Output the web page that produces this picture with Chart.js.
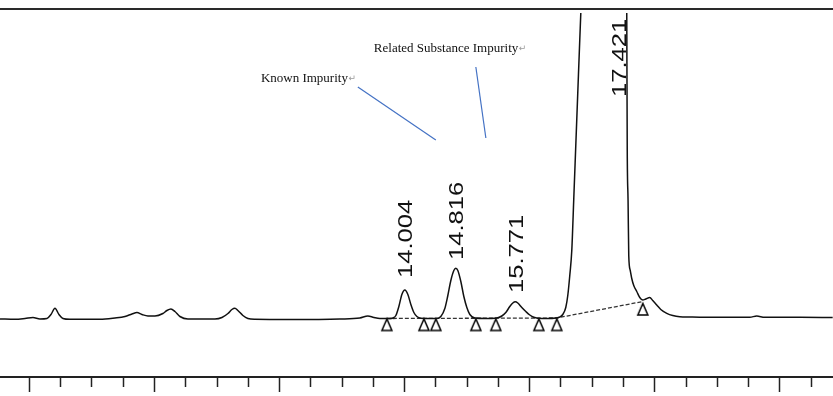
<!DOCTYPE html>
<html>
<head>
<meta charset="utf-8">
<title>Chromatogram</title>
<script src="https://cdn.jsdelivr.net/npm/chart.js@4/dist/chart.umd.min.js"></script>
<style>
  html, body { margin: 0; padding: 0; background: #fff; }
  #wrap { width: 833px; height: 396px; }
</style>
</head>
<body>
<div id="wrap"><canvas id="chrom" width="833" height="396"></canvas></div>
<script>
// retention time (min) and detector signal
const traceTime = [
  7.530, 7.770, 7.930, 8.057, 8.169, 8.281, 8.345, 8.409, 8.473, 8.537, 8.649, 9.128,
  9.368, 9.528, 9.640, 9.720, 9.800, 9.896, 10.008, 10.135, 10.199, 10.263, 10.327, 10.407,
  10.535, 10.967, 11.079, 11.175, 11.238, 11.286, 11.334, 11.414, 11.494, 11.606, 12.166, 12.965,
  13.284, 13.412, 13.508, 13.604, 13.764, 13.812, 13.860, 13.908, 13.956, 14.004, 14.052, 14.100,
  14.148, 14.196, 14.260, 14.403, 14.515, 14.579, 14.643, 14.691, 14.739, 14.787, 14.819, 14.851,
  14.899, 14.947, 14.995, 15.043, 15.123, 15.283, 15.474, 15.554, 15.618, 15.682, 15.730, 15.770,
  15.810, 15.874, 15.938, 16.002, 16.066, 16.130, 16.290, 16.417, 16.481, 16.529, 16.577, 16.609,
  16.641, 16.673, 16.705, 16.737, 16.769, 16.801, 16.817, 16.833, 17.421, 17.552, 17.560, 17.573,
  17.584, 17.608, 17.632, 17.664, 17.712, 17.760, 17.808, 17.856, 17.920, 17.968, 18.032, 18.096,
  18.192, 18.288, 18.400, 18.560, 18.719, 19.039, 19.519, 19.630, 19.758, 20.318, 20.845
];
const traceSignal = [
  -0.5, -0.8, 0, 1, -0.5, 0, 4, 10.2, 4, 0, -0.8, -0.8,
  0.5, 2, 4.5, 6, 4, 2.5, 2.5, 5, 8, 9.5, 7, 2,
  -0.5, -0.5, 1, 5, 9, 10.2, 8, 3, 0, -0.8, -1, -0.5,
  0.5, 2.5, 1, 0, 0, 0.5, 3, 12, 24, 28.5, 24, 14,
  6, 2, 0.3, 0, 0, 2, 10, 23, 38, 48, 50.2, 48,
  37, 22, 11, 4, 0.5, 0, 0.5, 2.5, 6, 12, 15.5, 16.8,
  15.5, 11, 7, 3.5, 1.2, 0.3, 0, 0.5, 1.5, 4, 11, 23,
  43, 68, 120, 173, 226, 279, 305, 332, 2600, 305, 168, 118,
  63, 48, 40, 33, 27, 21, 18.5, 19.5, 21, 18, 13.5, 9,
  5.2, 3, 1.8, 1.5, 1.3, 1.2, 1.2, 2.5, 1.2, 1.2, 1.0
];

// integration start/stop markers
const markerTime  = [13.716, 14.308, 14.499, 15.139, 15.458, 16.146, 16.433, 17.808];
const markerLevel = [0, 0, 0, 0, 0, 0, 0, 15.5];

// drawn integration baseline
const baseTime  = [13.716, 16.433, 17.808];
const baseLevel = [0, 0.5, 17];

// peak retention time labels
const peakNames  = ['14.004', '14.816', '15.771', '17.421'];
const peakTimes  = [14.004, 14.816, 15.771, 17.421];
const labelLevel = [40.5, 58.5, 25.5, 221.5];

// call-out notes
const noteTexts  = ['Known Impurity', 'Related Substance Impurity'];
const noteTime   = [11.702, 13.508];
const noteLevel  = [236.8, 266.8];
const leaderFrom = [[13.252, 231.5], [15.139, 251.5]];
const leaderTo   = [[14.499, 178.5], [15.299, 180.5]];

// axis ticks (min)
const xTickValues = [8, 8.5, 9, 9.5, 10, 10.5, 11, 11.5, 12, 12.5, 13, 13.5, 14, 14.5,
  15, 15.5, 16, 16.5, 17, 17.5, 18, 18.5, 19, 19.5, 20, 20.5];
const majorStep = 2;

function makeTriangle() {
  const c = document.createElement('canvas');
  c.width = 14; c.height = 28;
  const g = c.getContext('2d');
  g.strokeStyle = '#000';
  g.lineWidth = 1.5;
  g.beginPath();
  g.moveTo(7, 14.5);
  g.lineTo(2, 26);
  g.lineTo(12, 26);
  g.closePath();
  g.stroke();
  return c;
}

const notesPlugin = {
  id: 'notes',
  afterDatasetsDraw(chart) {
    const { ctx, scales: { x, y } } = chart;
    ctx.save();

    // rotated retention times
    ctx.fillStyle = '#111';
    ctx.font = '21px "Liberation Sans", Arial, sans-serif';
    ctx.textAlign = 'left';
    ctx.textBaseline = 'alphabetic';
    peakNames.forEach((name, i) => {
      ctx.save();
      ctx.translate(x.getPixelForValue(peakTimes[i]), y.getPixelForValue(labelLevel[i]));
      ctx.rotate(-Math.PI / 2);
      ctx.scale(1.22, 1);
      ctx.fillText(name, 0, 7.5);
      ctx.restore();
    });

    // leader lines
    ctx.strokeStyle = '#4472c4';
    ctx.lineWidth = 1.2;
    leaderFrom.forEach((p, i) => {
      ctx.beginPath();
      ctx.moveTo(x.getPixelForValue(p[0]), y.getPixelForValue(p[1]));
      ctx.lineTo(x.getPixelForValue(leaderTo[i][0]), y.getPixelForValue(leaderTo[i][1]));
      ctx.stroke();
    });

    // note texts with the paragraph mark
    noteTexts.forEach((txt, i) => {
      const px = x.getPixelForValue(noteTime[i]);
      const py = y.getPixelForValue(noteLevel[i]);
      ctx.font = '13px "Liberation Serif", "Times New Roman", serif';
      ctx.fillStyle = '#111';
      ctx.fillText(txt, px, py);
      const w = ctx.measureText(txt).width;
      ctx.font = '9px "DejaVu Sans", sans-serif';
      ctx.fillStyle = '#9a9a9a';
      ctx.fillText('\u21b5', px + w + 0.5, py - 1);
    });

    ctx.restore();
  }
};

new Chart(document.getElementById('chrom'), {
  type: 'line',
  data: {
    datasets: [
      {
        label: 'Signal',
        data: traceTime.map((t, i) => ({ x: t, y: traceSignal[i] })),
        borderColor: '#111',
        borderWidth: 1.5,
        pointRadius: 0,
        cubicInterpolationMode: 'monotone',
        fill: false,
        clip: { left: 0, top: -4, right: 0, bottom: 0 }
      },
      {
        label: 'Markers',
        data: markerTime.map((t, i) => ({ x: t, y: markerLevel[i] })),
        showLine: false,
        pointStyle: makeTriangle(),
        pointRadius: 5,
        clip: false
      },
      {
        label: 'Baseline',
        data: baseTime.map((t, i) => ({ x: t, y: baseLevel[i] })),
        borderColor: '#333',
        borderWidth: 1.3,
        borderDash: [4, 2],
        pointRadius: 0,
        tension: 0
      }
    ]
  },
  options: {
    responsive: false,
    animation: false,
    devicePixelRatio: 1,
    layout: { autoPadding: false, padding: { top: 9, bottom: 4, left: 0, right: 0 } },
    plugins: { legend: { display: false }, tooltip: { enabled: false } },
    scales: {
      x: {
        type: 'linear',
        position: 'bottom',
        min: 7.53,
        max: 20.85,
        afterBuildTicks: scale => { scale.ticks = xTickValues.map(v => ({ value: v })); },
        ticks: { display: false },
        grid: {
          display: true,
          drawOnChartArea: false,
          drawTicks: true,
          tickLength: 15,
          tickWidth: 1.5,
          tickColor: '#222',
          tickBorderDash: c => (c.tick && Math.abs(c.tick.value % majorStep) < 1e-6 ? [] : [9, 30])
        },
        border: { display: true, color: '#222', width: 2 }
      },
      xTop: {
        type: 'linear',
        position: 'top',
        min: 7.53,
        max: 20.85,
        ticks: { display: false },
        grid: { display: false, drawTicks: false },
        border: { display: true, color: '#2a2a2a', width: 2 }
      },
      y: {
        display: false,
        min: -58.5,
        max: 309.5
      }
    }
  },
  plugins: [notesPlugin]
});
</script>
</body>
</html>
